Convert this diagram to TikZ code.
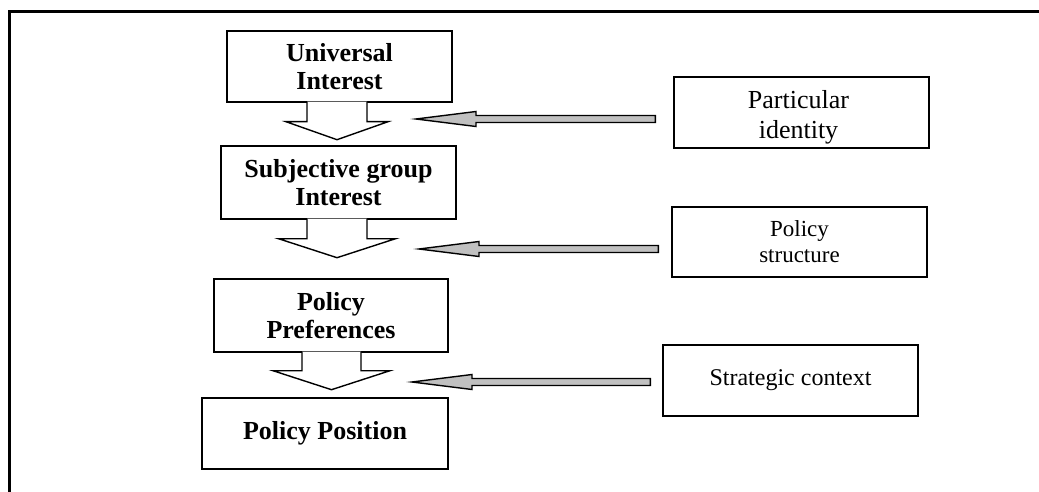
\documentclass[tikz,border=0pt]{standalone}
\usepackage{fontspec}
\setmainfont{Liberation Serif}
\usetikzlibrary{calc}
\definecolor{arrowgrey}{RGB}{192,192,192}
\begin{document}
\begin{tikzpicture}[x=1pt,y=-1pt,
  leftbox/.style={draw, line width=1.4pt, fill=white, align=center, inner sep=0pt,
    font=\fontsize{26}{28}\selectfont\bfseries},
  rightbox/.style={draw, line width=1.4pt, align=center, inner sep=0pt},
  blockarrow/.style={draw, line width=1.4pt, fill=white, line join=miter},
  greyarrow/.style={draw, line width=1.4pt, fill=arrowgrey, line join=miter},
  frameline/.style={line width=3pt}]
\useasboundingbox (0,0) rectangle (1039,492);
% frame
\draw[frameline] (9.5,492) -- (9.5,11.5) -- (1039,11.5);
% left column
\node[leftbox, minimum width=225pt, minimum height=71pt] (ui) at (339.5,66.5) {Universal\\Interest};
\node[leftbox, minimum width=235pt, minimum height=73pt] (sg) at (338.5,182.5) {Subjective group\\Interest};
\node[leftbox, minimum width=234pt, minimum height=73pt] (pp) at (331,315.5) {Policy\\Preferences};
\node[leftbox, minimum width=246pt, minimum height=71pt] (pos) at (325,433.5) {Policy Position};
% right column
\node[rightbox, minimum width=255pt, minimum height=71pt] (pid) at (801.5,112.5) {};
\node[align=center, inner sep=0pt, font=\fontsize{26}{30}\selectfont] (pidt) at ($(pid.center)+(-3,4.5)$) {Particular\\identity};
\node[rightbox, minimum width=255pt, minimum height=70pt, font=\fontsize{23}{26}\selectfont] (pst) at (799.5,242) {Policy\\structure};
\node[rightbox, minimum width=255pt, minimum height=71pt, font=\fontsize{24}{26}\selectfont] (sc) at (790.5,380.5) {Strategic context};
% block arrows between left boxes
\coordinate (s1) at ($(ui.south)+(-2.5,0)$);
\coordinate (s2) at ($(sg.south)+(-1.5,0)$);
\coordinate (s3) at ($(pp.south)+(0.5,0)$);
\draw[blockarrow] ($(s1)+(-30,-1)$) -- ($(s1)+(-30,19)$) -- ($(s1)+(-51,19)$) -- ($(s1)+(0,37)$) -- ($(s1)+(51,19)$) -- ($(s1)+(30,19)$) -- ($(s1)+(30,-1)$);
\draw[blockarrow] ($(s2)+(-30,-1)$) -- ($(s2)+(-30,19)$) -- ($(s2)+(-58.5,19)$) -- ($(s2)+(0,38)$) -- ($(s2)+(58.5,19)$) -- ($(s2)+(30,19)$) -- ($(s2)+(30,-1)$);
\draw[blockarrow] ($(s3)+(-29.5,-1)$) -- ($(s3)+(-29.5,18)$) -- ($(s3)+(-58.5,18)$) -- ($(s3)+(0,37)$) -- ($(s3)+(58.5,18)$) -- ($(s3)+(29.5,18)$) -- ($(s3)+(29.5,-1)$);
% grey arrows from right boxes
\coordinate (ta) at ($(pid.west)+(-18,6.5)$);
\coordinate (ha) at (416,119);
\coordinate (tb) at ($(pst.west)+(-13,7)$);
\coordinate (hb) at (419,249);
\coordinate (tc) at ($(sc.west)+(-12,1.5)$);
\coordinate (hc) at (412,382);
\foreach \t/\h in {ta/ha,tb/hb,tc/hc}{
  \draw[greyarrow] (\h) -- ($(\h)+(60,-7.5)$) -- ($(\h)+(60,-3.5)$) -- ($(\t)+(0,-3.5)$) -- ($(\t)+(0,3.5)$) -- ($(\h)+(60,3.5)$) -- ($(\h)+(60,7.5)$) -- cycle;
}
\end{tikzpicture}
\end{document}
